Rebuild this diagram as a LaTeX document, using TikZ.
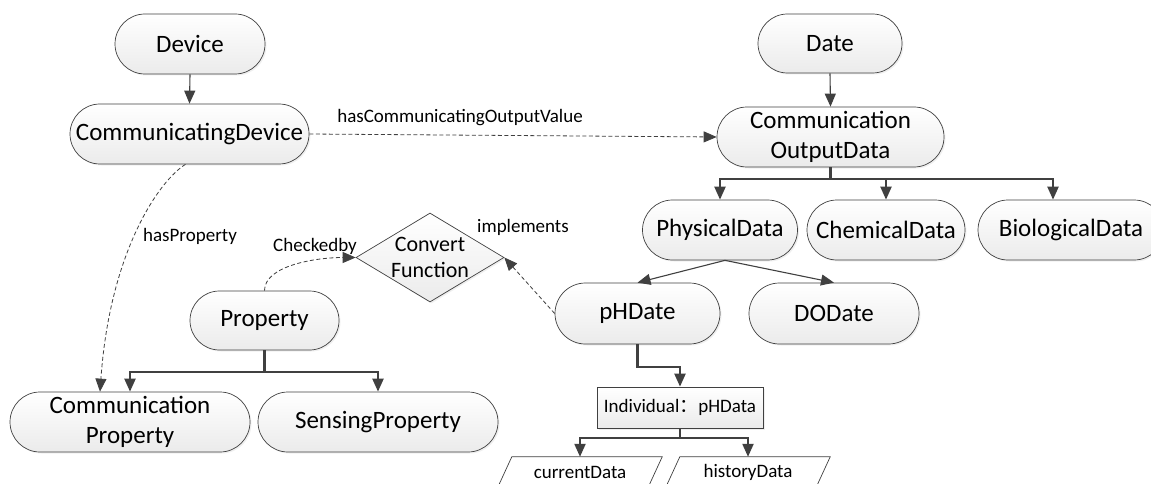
\documentclass[tikz,border=0pt]{standalone}
\usepackage{fontspec}
\setmainfont{Carlito}
\newfontfamily\cjk{Noto Sans CJK SC}
\usetikzlibrary{shapes.misc,shapes.geometric,arrows.meta,shadows}
\definecolor{edge}{HTML}{404040}
\definecolor{fillbot}{HTML}{EBEBEB}
\tikzset{
  shd/.style={drop shadow={opacity=0.12, shadow xshift=1.5pt, shadow yshift=-1.5pt}},
  pill/.style={rounded rectangle, draw=edge, line width=0.7pt, top color=white, bottom color=fillbot, shd,
    inner sep=0pt, font=\fontsize{25}{30}\selectfont, align=center},
  lbl/.style={font=\fontsize{19}{22}\selectfont, inner sep=0pt},
  tip/.style={-{Triangle[length=13pt,width=11pt]}},
  tree/.style={draw=edge, line width=2.2pt, tip},
  thin/.style={draw=edge, line width=1.1pt, tip},
  dsh/.style={draw=edge, line width=0.8pt, dash pattern=on 4pt off 2.5pt, tip},
  databox/.style={draw=none, inner sep=0pt, minimum width=150pt, minimum height=30pt, font=\fontsize{19}{22}\selectfont}
}
\begin{document}
\begin{tikzpicture}[x=1pt,y=-1pt]
\useasboundingbox (0,0) rectangle (1151,484);
\fill[white] (0,0) rectangle (1151,484);

% nodes
\node[pill, minimum width=150pt, minimum height=60pt] (dev) at (190,44) {Device};
\node[pill, minimum width=239pt, minimum height=60pt] (cdev) at (189.5,134) {CommunicatingDevice};
\node[pill, minimum width=144pt, minimum height=59pt] (date) at (830,43.5) {Date};
\node[pill, minimum width=227pt, minimum height=60pt] (cod) at (830.5,137) {Communication\\OutputData};
\node[pill, minimum width=155pt, minimum height=60pt] (phys) at (720,230) {PhysicalData};
\node[pill, minimum width=158pt, minimum height=60pt] (chem) at (886,230) {ChemicalData};
\node[pill, minimum width=186pt, minimum height=60pt] (bio) at (1071,230) {BiologicalData};
\node[pill, minimum width=165pt, minimum height=61pt] (ph) at (637.5,313.5) {pHDate};
\node[pill, minimum width=170pt, minimum height=61pt] (do) at (834,313.5) {DODate};
\node[pill, minimum width=149pt, minimum height=59pt] (prop) at (264.5,320.5) {Property};
\node[pill, minimum width=240pt, minimum height=60pt] (cprop) at (130,422) {Communication\\Property};
\node[pill, minimum width=240pt, minimum height=60pt] (sprop) at (378,422) {SensingProperty};
\node[diamond, draw=edge, line width=0.7pt, top color=white, bottom color=fillbot, shd, inner sep=0pt,
  aspect=1.66, minimum width=148pt, minimum height=89pt, align=center,
  font=\fontsize{22}{26}\selectfont] (cf) at (430,257.5) {Convert\\Function};
\node[rectangle, draw=edge, line width=0.7pt, top color=white, bottom color=fillbot, shd, inner sep=0pt,
  minimum width=166pt, minimum height=41pt, font=\fontsize{19}{22}\selectfont] (indiv) at (680,407.5)
  {Individual{\cjk ：}pHData};
\node[databox] (cur) at (580,472) {currentData};
\node[databox] (hist) at (748,472) {historyData};
\draw[edge, line width=0.7pt, fill=white]
  ([xshift=7pt]cur.north west) -- ([xshift=7pt]cur.north east) -- ([xshift=-7pt]cur.south east) -- ([xshift=-7pt]cur.south west) -- cycle;
\draw[edge, line width=0.7pt, fill=white]
  ([xshift=7pt]hist.north west) -- ([xshift=7pt]hist.north east) -- ([xshift=-7pt]hist.south east) -- ([xshift=-7pt]hist.south west) -- cycle;
\node[databox] at (cur) {currentData};
\node[databox] at (hist) {historyData};

% connectors
\draw[thin] (dev.south) -- (cdev.north);
\draw[thin] (date.south) -- (cod.north);
\draw[tree] (cod.south) -- ++(0,12) -| (phys.north);
\draw[tree] (cod.south) -- ++(0,12) -| (chem.north);
\draw[tree] (cod.south) -- ++(0,12) -| ([xshift=-18pt]bio.north);
\draw[thin] ([xshift=5pt]phys.south) -- (ph.north);
\draw[thin] ([xshift=5pt]phys.south) -- (do.north);
\draw[tree] (ph.south) -- ++(0,23) -| (indiv.north);
\draw[tree] (indiv.south) -- ++(0,10) -| (cur.north);
\draw[tree] (indiv.south) -- ++(0,10) -| (hist.north);
\draw[tree] (prop.south) -- ++(0,22) -| (cprop.north);
\draw[tree] (prop.south) -- ++(0,22) -| (sprop.north);

\draw[dsh] (cdev.east) -- node[lbl, above=9pt, pos=0.37] {hasCommunicatingOutputValue} (cod.west);
\draw[dsh] ([xshift=-4pt]cdev.south) .. controls (160,180) and (110,250) .. ([xshift=-30pt]cprop.north);
\node[lbl] (hp) at (190,236) {hasProperty};
\draw[dsh] (prop.north) .. controls +(0,-25) and +(-40,0) .. (cf.west);
\node[lbl] (cb) at (315,246) {Checkedby};
\draw[dsh] (ph.west) -- (cf.east);
\node[lbl] (im) at (523,227) {implements};
\end{tikzpicture}
\end{document}
